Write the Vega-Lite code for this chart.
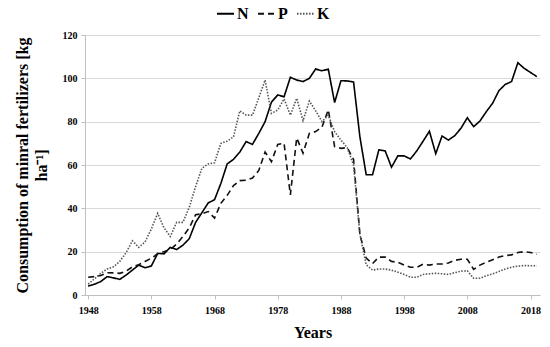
{
  "$schema": "https://vega.github.io/schema/vega-lite/v6.json",
  "width": 455,
  "height": 260,
  "autosize": {"type": "none"},
  "padding": {"left": 85, "top": 35, "right": 10, "bottom": 52},
  "background": "white",
  "data": {"values": [
    {"Year":1948,"N":4.1,"P":8.2,"K":5},
    {"Year":1949,"N":5,"P":8.5,"K":7.5},
    {"Year":1950,"N":6.2,"P":9,"K":10},
    {"Year":1951,"N":8.5,"P":10.3,"K":12},
    {"Year":1952,"N":7.9,"P":10.2,"K":13},
    {"Year":1953,"N":7.2,"P":10,"K":15.5},
    {"Year":1954,"N":9.2,"P":11,"K":19.5},
    {"Year":1955,"N":11.5,"P":13,"K":25},
    {"Year":1956,"N":13.8,"P":14,"K":22},
    {"Year":1957,"N":12.6,"P":15.5,"K":24.5},
    {"Year":1958,"N":13.4,"P":17,"K":30.5},
    {"Year":1959,"N":19.2,"P":19,"K":37.7},
    {"Year":1960,"N":19,"P":20,"K":31},
    {"Year":1961,"N":22,"P":21,"K":27},
    {"Year":1962,"N":21,"P":23.5,"K":33.5},
    {"Year":1963,"N":23,"P":27,"K":33.5},
    {"Year":1964,"N":26,"P":31,"K":40.5},
    {"Year":1965,"N":33.5,"P":37,"K":50},
    {"Year":1966,"N":38,"P":37.5,"K":58.5},
    {"Year":1967,"N":42.5,"P":38.5,"K":60.5},
    {"Year":1968,"N":44,"P":35.5,"K":61},
    {"Year":1969,"N":51.5,"P":42.3,"K":70},
    {"Year":1970,"N":60.5,"P":46,"K":71},
    {"Year":1971,"N":62.6,"P":50.5,"K":73},
    {"Year":1972,"N":66,"P":52.8,"K":85},
    {"Year":1973,"N":70.8,"P":53,"K":83},
    {"Year":1974,"N":69.5,"P":54,"K":83},
    {"Year":1975,"N":74.6,"P":57.5,"K":91},
    {"Year":1976,"N":80,"P":66,"K":99.2},
    {"Year":1977,"N":89,"P":61.5,"K":83.8},
    {"Year":1978,"N":92.3,"P":69.5,"K":85.4},
    {"Year":1979,"N":91.5,"P":70,"K":90.5},
    {"Year":1980,"N":100.5,"P":46.2,"K":83},
    {"Year":1981,"N":99.2,"P":72.5,"K":90.8},
    {"Year":1982,"N":98.5,"P":65.5,"K":80.5},
    {"Year":1983,"N":100,"P":74.6,"K":89.5},
    {"Year":1984,"N":104.3,"P":75.4,"K":85},
    {"Year":1985,"N":103.5,"P":77.5,"K":80},
    {"Year":1986,"N":104.2,"P":85.5,"K":83},
    {"Year":1987,"N":88.8,"P":68.5,"K":75.4},
    {"Year":1988,"N":98.9,"P":67.7,"K":71.5},
    {"Year":1989,"N":98.8,"P":68,"K":68},
    {"Year":1990,"N":98.3,"P":62.5,"K":60},
    {"Year":1991,"N":73,"P":28,"K":28},
    {"Year":1992,"N":55.5,"P":17,"K":14},
    {"Year":1993,"N":55.5,"P":14.5,"K":11.5},
    {"Year":1994,"N":67,"P":17.5,"K":12},
    {"Year":1995,"N":66.5,"P":17.5,"K":12},
    {"Year":1996,"N":59,"P":15.5,"K":11.5},
    {"Year":1997,"N":64.2,"P":15.1,"K":10.5},
    {"Year":1998,"N":64.2,"P":13.8,"K":9.5},
    {"Year":1999,"N":62.8,"P":12.8,"K":8.2},
    {"Year":2000,"N":66.5,"P":12.8,"K":8.2},
    {"Year":2001,"N":71,"P":14.2,"K":9.5},
    {"Year":2002,"N":75.6,"P":13.8,"K":9.8},
    {"Year":2003,"N":65.2,"P":14.3,"K":10},
    {"Year":2004,"N":73.4,"P":14.3,"K":9.8},
    {"Year":2005,"N":71.5,"P":14.8,"K":9.5},
    {"Year":2006,"N":73.5,"P":16,"K":10.3},
    {"Year":2007,"N":77,"P":16.5,"K":11},
    {"Year":2008,"N":81.8,"P":16.5,"K":11.2},
    {"Year":2009,"N":77.7,"P":11.8,"K":7.7},
    {"Year":2010,"N":80.3,"P":13.8,"K":7.7},
    {"Year":2011,"N":84.6,"P":15.1,"K":8.9},
    {"Year":2012,"N":88.5,"P":16.3,"K":9.7},
    {"Year":2013,"N":94.3,"P":17.5,"K":10.9},
    {"Year":2014,"N":97.2,"P":18.2,"K":12},
    {"Year":2015,"N":98.5,"P":18.5,"K":12.8},
    {"Year":2016,"N":107.2,"P":19.6,"K":13.3},
    {"Year":2017,"N":104.6,"P":20,"K":13.6},
    {"Year":2018,"N":102.7,"P":19.6,"K":13.5},
    {"Year":2019,"N":100.8,"P":18.8,"K":13.5}
  ]},
  "transform": [{"fold": ["N", "P", "K"], "as": ["Nutrient", "Value"]}],
  "mark": {"type": "line", "strokeWidth": 1.6},
  "encoding": {
    "x": {
      "field": "Year", "type": "quantitative",
      "scale": {"domain": [1947.5, 2019.5], "nice": false, "zero": false},
      "axis": {
        "values": [1948, 1958, 1968, 1978, 1988, 1998, 2008, 2018],
        "format": "d", "grid": false, "title": "Years",
        "tickSize": 4, "labelPadding": 6, "titlePadding": 9
      }
    },
    "y": {
      "field": "Value", "type": "quantitative",
      "scale": {"domain": [0, 120], "nice": false},
      "axis": {
        "values": [0, 20, 40, 60, 80, 100, 120],
        "title": ["Consumption of minral fertilizers [kg", "ha⁻¹]"],
        "titleLineHeight": 19, "tickSize": 4, "labelPadding": 4, "titlePadding": 13
      }
    },
    "color": {
      "field": "Nutrient", "type": "nominal",
      "scale": {"domain": ["N", "P", "K"], "range": ["#000000", "#111111", "#555555"]},
      "legend": {"title": null, "orient": "none", "legendX": 131, "legendY": -31, "direction": "horizontal", "symbolType": "stroke", "symbolSize": 289, "symbolStrokeWidth": 2, "labelFont": "Liberation Serif", "labelFontSize": 16, "labelFontWeight": "bold", "labelColor": "#000", "labelOffset": 2, "columnPadding": 5}
    },
    "strokeDash": {
      "field": "Nutrient", "type": "nominal",
      "scale": {"domain": ["N", "P", "K"], "range": [[1, 0], [6, 4], [1.5, 1.5]]},
      "legend": {"title": null, "orient": "none", "legendX": 131, "legendY": -31, "direction": "horizontal", "symbolType": "stroke", "symbolSize": 289, "symbolStrokeWidth": 2, "labelFont": "Liberation Serif", "labelFontSize": 16, "labelFontWeight": "bold", "labelColor": "#000", "labelOffset": 2, "columnPadding": 5}
    }
  },
  "config": {
    "view": {"stroke": null},
    "axis": {
      "labelFont": "Liberation Serif", "labelFontSize": 10, "labelFontWeight": "bold", "labelColor": "#000",
      "titleFont": "Liberation Serif", "titleFontSize": 16, "titleFontWeight": "bold", "titleColor": "#000",
      "domainColor": "#bfbfbf", "tickColor": "#bfbfbf", "gridColor": "#d9d9d9"
    }
  }
}
